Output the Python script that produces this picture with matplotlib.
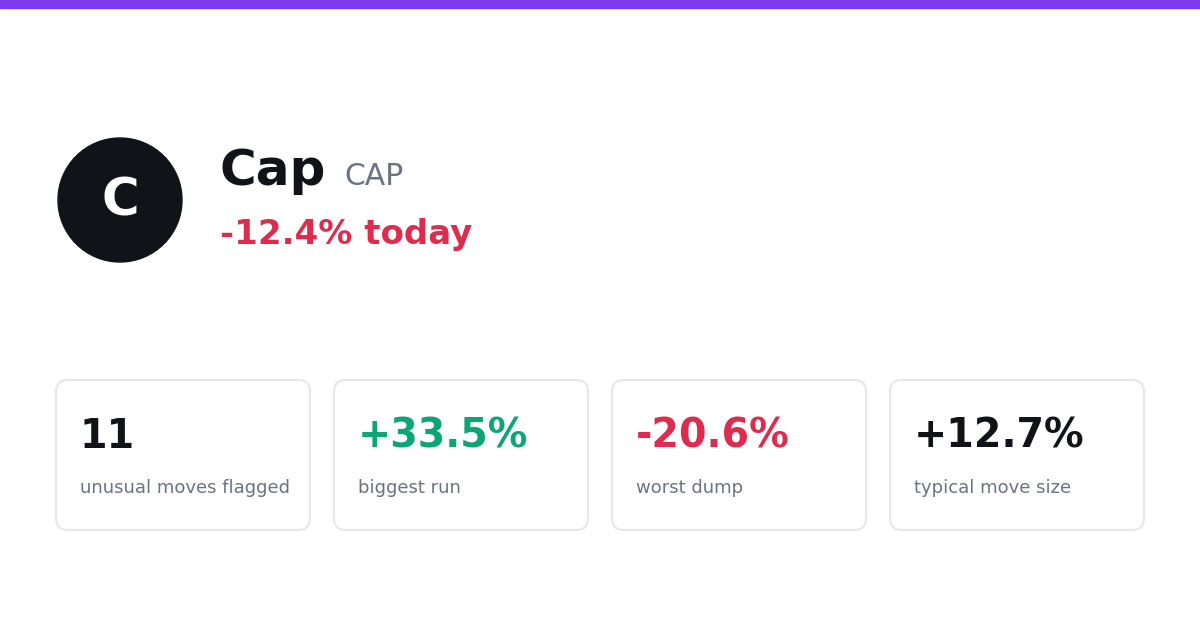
import matplotlib.pyplot as plt
from matplotlib.patches import Circle, FancyBboxPatch, Rectangle

name = "Cap"
ticker = "CAP"
change_text = "-12.4% today"
stat_values = ["11", "+33.5%", "-20.6%", "+12.7%"]
stat_labels = ["unusual moves flagged", "biggest run", "worst dump", "typical move size"]
stat_colors = ["#111318", "#0ea575", "#dc2d4f", "#111318"]

fig = plt.figure(figsize=(12, 6.3), dpi=100)
ax = fig.add_axes([0, 0, 1, 1])
ax.set_xlim(0, 1200)
ax.set_ylim(630, 0)
ax.axis("off")

# top stripe
ax.add_patch(Rectangle((0, 0), 1200, 8, color="#7c3aed"))

# avatar
ax.add_patch(Circle((120, 200), 62, color="#111318"))
ax.text(120, 201, name[0], color="white", fontsize=37, fontweight="bold",
        ha="center", va="center")

ax.text(220, 185, name, color="#111318", fontsize=36, fontweight="bold", va="baseline")
ax.text(344, 185, ticker, color="#6b7280", fontsize=21.5, va="baseline")
ax.text(220, 244, change_text, color="#dc2d4f", fontsize=24.5, fontweight="bold", va="baseline")

# stat cards
for i, (val, lab, col) in enumerate(zip(stat_values, stat_labels, stat_colors)):
    x0 = 56 + i * 278
    ax.add_patch(FancyBboxPatch((x0, 380), 254, 150,
                                boxstyle="round,pad=0,rounding_size=12",
                                facecolor="white", edgecolor="#e5e7eb", linewidth=1.5))
    ax.text(x0 + 24, 448, val, color=col, fontsize=28.5, fontweight="bold", va="baseline")
    ax.text(x0 + 24, 493, lab, color="#6b7280", fontsize=13, va="baseline")

fig.savefig("out.png", dpi=100)
